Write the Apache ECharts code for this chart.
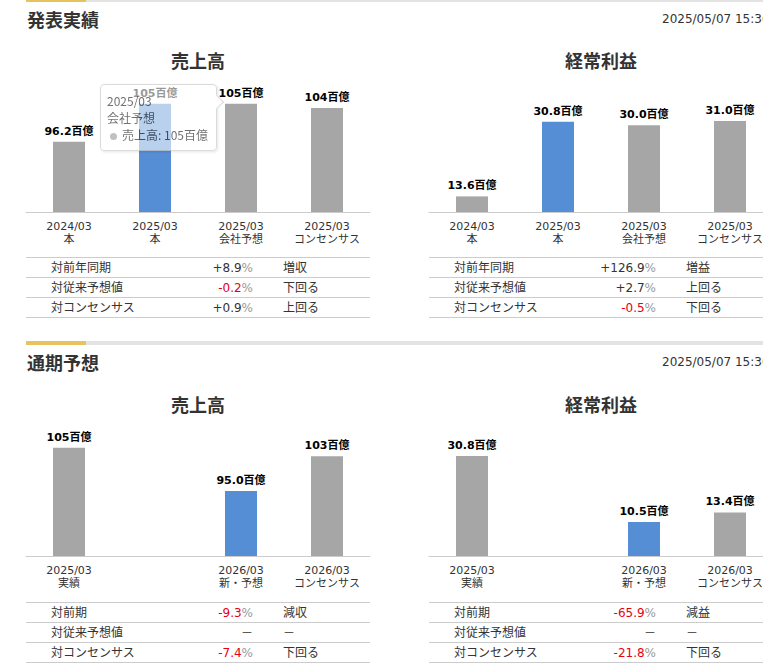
<!DOCTYPE html>
<html>
<head>
<meta charset="utf-8">
<script src="https://cdn.jsdelivr.net/npm/echarts/dist/echarts.min.js"></script>
<style>
html,body{margin:0;padding:0;background:#fff;overflow:hidden;}
#main{width:763px;height:671px;}
</style>
</head>
<body>
<div id="main"></div>
<script>
// ---------- data ----------
const sectionTitles = ['発表実績', '通期予想'];
const updateTime = '2025/05/07 15:30';
const chartTitles = ['売上高', '経常利益', '売上高', '経常利益'];

const resultCats = ['2024/03\n本', '2025/03\n本', '2025/03\n会社予想', '2025/03\nコンセンサス'];
const resultSales = [96.2, 105, 105, 104];
const resultProfit = [13.6, 30.8, 30.0, 31.0];
const resultHighlight = 1;

const forecastCats = ['2025/03\n実績', '', '2026/03\n新・予想', '2026/03\nコンセンサス'];
const forecastSales = [105, '-', 95.0, 103];
const forecastProfit = [30.8, '-', 10.5, 13.4];
const forecastHighlight = 2;

const axisRanges = [[80, 110], [10, 40], [80, 110], [0, 40]];
const unit = '百億';

const rowLabelsResult = ['対前年同期', '対従来予想値', '対コンセンサス'];
const salesResultVals = ['+8.9', '-0.2', '+0.9'];
const salesResultStatus = ['増収', '下回る', '上回る'];
const profitResultVals = ['+126.9', '+2.7', '-0.5'];
const profitResultStatus = ['増益', '上回る', '下回る'];

const rowLabelsForecast = ['対前期', '対従来予想値', '対コンセンサス'];
const salesForecastVals = ['-9.3', '－', '-7.4'];
const salesForecastStatus = ['減収', '－', '下回る'];
const profitForecastVals = ['-65.9', '－', '-21.8'];
const profitForecastStatus = ['減益', '－', '下回る'];

// ---------- styles / layout ----------
const BLUE = '#558ed5', GREY = '#a6a6a6';
const LATIN = "'DejaVu Sans', 'Noto Sans CJK JP', sans-serif";
const CJK = "'Noto Sans CJK JP', sans-serif";
const W = 763;
const panelLeft = [26, 429];
const panelWidth = 344;
const sectionTop = [0, 343];
const gridTop = [82, 426];
const gridH = 130;
const tableTop = [257, 602];
const rowH = 20;

function fmt(v) { return v >= 100 ? String(Math.round(v)) : v.toFixed(1); }

const chartDefs = [
  { cats: resultCats, vals: resultSales, hl: resultHighlight, name: chartTitles[0], p: 0, s: 0 },
  { cats: resultCats, vals: resultProfit, hl: resultHighlight, name: chartTitles[1], p: 1, s: 0 },
  { cats: forecastCats, vals: forecastSales, hl: forecastHighlight, name: chartTitles[2], p: 0, s: 1 },
  { cats: forecastCats, vals: forecastProfit, hl: forecastHighlight, name: chartTitles[3], p: 1, s: 1 }
];

const grids = [], xAxes = [], yAxes = [], series = [];
chartDefs.forEach((d, i) => {
  grids.push({ left: panelLeft[d.p], top: gridTop[d.s], width: panelWidth, height: gridH, containLabel: false, outerBoundsMode: 'none' });
  xAxes.push({
    type: 'category', gridIndex: i, data: d.cats,
    axisTick: { show: false },
    axisLine: { lineStyle: { color: '#cccccc', width: 1 } },
    axisLabel: { interval: 0, color: '#333', fontSize: 11, fontFamily: LATIN, lineHeight: 13, margin: 8 }
  });
  yAxes.push({ type: 'value', gridIndex: i, show: false, min: axisRanges[i][0], max: axisRanges[i][1], splitLine: { show: false } });
  series.push({
    type: 'bar', name: d.name, xAxisIndex: i, yAxisIndex: i, barWidth: 32,
    emphasis: { disabled: true },
    data: d.vals.map((v, j) => v === '-' ? '-' : { value: v, itemStyle: { color: j === d.hl ? BLUE : GREY } }),
    label: {
      show: true, position: 'top', distance: 5, color: '#000', fontSize: 11, fontWeight: 'bold', fontFamily: LATIN,
      formatter: p => fmt(p.value) + unit
    }
  });
});

// ---------- graphic (headers, chart titles, tables) ----------
const graphic = [];
function txt(x, y, text, opt) {
  const st = Object.assign({ text: text, x: 0, y: 0, fill: '#333', font: '12px ' + CJK,
    textAlign: 'left', align: 'left', textVerticalAlign: 'middle', verticalAlign: 'middle' }, opt || {});
  graphic.push({ type: 'text', x: x, y: y, silent: true, style: st });
}
sectionTitles.forEach((t, s) => {
  const y0 = sectionTop[s];
  graphic.push({ type: 'rect', silent: true, shape: { x: 26, y: y0 - 2, width: W, height: 4 }, style: { fill: '#e3e3e3' } });
  graphic.push({ type: 'rect', silent: true, shape: { x: 26, y: y0 - 2, width: 60, height: 4 }, style: { fill: '#e6c35c' } });
  txt(27, y0 + 19, t, { font: 'bold 18px ' + CJK, fill: '#333' });
  txt(662, y0 + 19, updateTime, { font: '12px ' + LATIN, fill: '#333' });
});
chartDefs.forEach((d, i) => {
  txt(panelLeft[d.p] + panelWidth / 2, gridTop[d.s] - 22, d.name, { font: 'bold 18px ' + CJK, fill: '#333', textAlign: 'center', align: 'center' });
});

const tables = [
  { p: 0, s: 0, labels: rowLabelsResult, vals: salesResultVals, status: salesResultStatus },
  { p: 1, s: 0, labels: rowLabelsResult, vals: profitResultVals, status: profitResultStatus },
  { p: 0, s: 1, labels: rowLabelsForecast, vals: salesForecastVals, status: salesForecastStatus },
  { p: 1, s: 1, labels: rowLabelsForecast, vals: profitForecastVals, status: profitForecastStatus }
];
tables.forEach(t => {
  const x0 = panelLeft[t.p], y0 = tableTop[t.s];
  for (let r = 0; r <= t.labels.length; r++) {
    graphic.push({ type: 'line', silent: true, shape: { x1: x0, y1: y0 + r * rowH + 0.5, x2: x0 + panelWidth, y2: y0 + r * rowH + 0.5 }, style: { stroke: '#cccccc', lineWidth: 1 } });
  }
  t.labels.forEach((lab, r) => {
    const yc = y0 + r * rowH + rowH / 2 + 0.5;
    txt(x0 + 25, yc, lab, { font: '12px ' + LATIN });
    const v = t.vals[r];
    if (v === '－') {
      txt(x0 + 227, yc, v, { font: '12px ' + LATIN, textAlign: 'right', align: 'right' });
    } else {
      const neg = v.charAt(0) === '-';
      txt(x0 + 227, yc, '{n|' + v + '}{p|%}', {
        font: '12px ' + LATIN, textAlign: 'right', align: 'right',
        rich: {
          n: { fill: neg ? '#e60012' : '#333', color: neg ? '#e60012' : '#333', font: '12px ' + LATIN, fontSize: 12, fontFamily: LATIN },
          p: { fill: '#999', color: '#999', font: '12px ' + LATIN, fontSize: 12, fontFamily: LATIN }
        }
      });
    }
    txt(x0 + 257, yc, t.status[r], { font: '12px ' + LATIN });
  });
});

// ---------- chart ----------
const chart = echarts.init(document.getElementById('main'), null, { renderer: 'svg' });
chart.setOption({
  animation: false,
  grid: grids, xAxis: xAxes, yAxis: yAxes, series: series, graphic: graphic,
  tooltip: {
    trigger: 'item', triggerOn: 'none', alwaysShowContent: true, transitionDuration: 0,
    position: [100, 84],
    backgroundColor: 'rgba(255,255,255,0.85)', borderColor: '#cccccc', borderWidth: 1, padding: [7, 8, 7, 6],
    textStyle: { color: '#333', fontSize: 12, fontFamily: CJK },
    extraCssText: 'opacity:0.7;border-radius:4px;box-shadow:1px 1px 3px rgba(0,0,0,0.15);',
    formatter: p => {
      const v = fmt(p.value);
      return '<div style="position:relative;line-height:17px;font-size:12px;font-family:' + CJK.replace(/'/g, '&quot;') + '">' +
        p.name.replace('\n', '<br/>') + '<br/>' +
        '<span style="display:inline-block;width:7px;height:7px;border-radius:50%;background:' + GREY + ';margin:0 5px 0 3px;vertical-align:middle"></span>' +
        p.seriesName + ': ' + v + unit + '</div>' +
        '<div style="position:absolute;right:-6px;top:12px;width:9px;height:9px;background:#fff;border-top:1px solid #ccc;border-right:1px solid #ccc;transform:rotate(45deg)"></div>';
    }
  }
});
chart.dispatchAction({ type: 'showTip', seriesIndex: 0, dataIndex: 2 });
</script>
</body>
</html>
